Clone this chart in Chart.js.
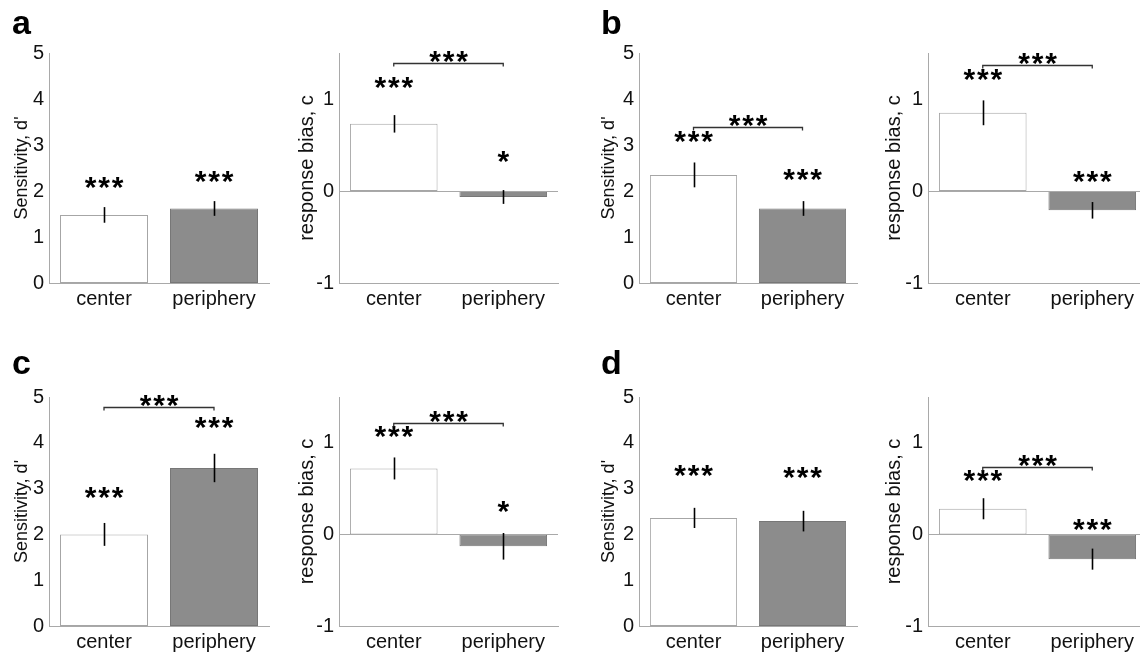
<!DOCTYPE html>
<html>
<head>
<meta charset="utf-8">
<script src="https://cdn.jsdelivr.net/npm/chart.js@4.4.1/dist/chart.umd.min.js"></script>
<style>
html, body { margin: 0; padding: 0; background: #fff; width: 1140px; height: 655px; overflow: hidden; }
canvas { position: absolute; }
</style>
</head>
<body>
<canvas id="sensA" width="280" height="310" style="left:0px;top:0px"></canvas>
<canvas id="biasA" width="290" height="310" style="left:280px;top:0px"></canvas>
<canvas id="sensB" width="290" height="310" style="left:570px;top:0px"></canvas>
<canvas id="biasB" width="297" height="310" style="left:850px;top:0px"></canvas>
<canvas id="sensC" width="280" height="325" style="left:0px;top:330px"></canvas>
<canvas id="biasC" width="290" height="325" style="left:280px;top:330px"></canvas>
<canvas id="sensD" width="290" height="325" style="left:570px;top:330px"></canvas>
<canvas id="biasD" width="297" height="325" style="left:850px;top:330px"></canvas>
<script>
// data
var categories = ['center', 'periphery'];

// a
var sensA = [1.48, 1.62];
var sensErrA = [0.17, 0.16];
var sensStarsA = ['***', '***'];
var sensStarLevelA = [2.17, 2.30];
var biasA = [0.73, -0.065];
var biasErrA = [0.095, 0.075];
var biasStarsA = ['***', '*'];
var biasStarLevelA = [1.17, 0.37];
var biasBracketA = 1.39;

// b
var sensB = [2.35, 1.62];
var sensErrB = [0.27, 0.16];
var sensStarsB = ['***', '***'];
var sensStarLevelB = [3.17, 2.35];
var sensBracketB = 3.39;
var biasB = [0.85, -0.21];
var biasErrB = [0.135, 0.09];
var biasStarsB = ['***', '***'];
var biasStarLevelB = [1.26, 0.15];
var biasBracketB = 1.37;

// c
var sensC = [2.0, 3.45];
var sensErrC = [0.25, 0.31];
var sensStarsC = ['***', '***'];
var sensStarLevelC = [2.90, 4.43];
var sensBracketC = 4.78;
var biasC = [0.72, -0.13];
var biasErrC = [0.12, 0.145];
var biasStarsC = ['***', '*'];
var biasStarLevelC = [1.12, 0.30];
var biasBracketC = 1.22;

// d
var sensD = [2.36, 2.29];
var sensErrD = [0.22, 0.225];
var sensStarsD = ['***', '***'];
var sensStarLevelD = [3.38, 3.33];
var biasD = [0.28, -0.27];
var biasErrD = [0.115, 0.115];
var biasStarsD = ['***', '***'];
var biasStarLevelD = [0.64, 0.10];
var biasBracketD = 0.74;

var FONT = '"Liberation Sans", Arial, Helvetica, sans-serif';
var AXIS_GREY = '#a9a9a9';
var STAR_GAP = 13.5;

// asterisks spaced out a bit wider than the font does it
function drawStars(ctx, text, cx, cy, shift) {
    var n = text.length;
    for (var k = 0; k < n; k++) {
        ctx.fillText(text[k], cx + (k - (n - 1) / 2) * STAR_GAP, cy - shift);
    }
}

// draws baseline, error bars, significance stars, bracket and panel letter
var extrasPlugin = {
    id: 'extras',
    afterDatasetsDraw: function(chart, args, opts) {
        var ctx = chart.ctx;
        var xs = chart.scales.x, ys = chart.scales.y;
        var area = chart.chartArea;
        ctx.save();

        if (ys.min < 0) {
            var y0 = Math.round(ys.getPixelForValue(0)) + 0.5;
            ctx.strokeStyle = AXIS_GREY;
            ctx.lineWidth = 1;
            ctx.beginPath();
            ctx.moveTo(area.left, y0);
            ctx.lineTo(area.right, y0);
            ctx.stroke();
        }

        var vals = chart.data.datasets[0].data;
        ctx.strokeStyle = '#000';
        ctx.lineWidth = 1.6;
        for (var i = 0; i < vals.length; i++) {
            var x = Math.round(xs.getPixelForValue(i)) + 0.5;
            ctx.beginPath();
            ctx.moveTo(x, ys.getPixelForValue(vals[i] - opts.err[i]));
            ctx.lineTo(x, ys.getPixelForValue(vals[i] + opts.err[i]));
            ctx.stroke();
        }

        ctx.font = 'bold 30px ' + FONT;
        ctx.fillStyle = '#000';
        ctx.textAlign = 'center';
        var m = ctx.measureText('*');
        var shift = (m.actualBoundingBoxDescent - m.actualBoundingBoxAscent) / 2;
        for (var j = 0; j < opts.stars.length; j++) {
            drawStars(ctx, opts.stars[j], xs.getPixelForValue(j), ys.getPixelForValue(opts.starLevel[j]), shift);
        }

        if (opts.bracket != null) {
            var by = Math.round(ys.getPixelForValue(opts.bracket)) + 0.5;
            var bx0 = xs.getPixelForValue(0), bx1 = xs.getPixelForValue(1);
            ctx.strokeStyle = '#333';
            ctx.lineWidth = 1.3;
            ctx.beginPath();
            ctx.moveTo(bx0, by + 3);
            ctx.lineTo(bx0, by);
            ctx.lineTo(bx1, by);
            ctx.lineTo(bx1, by + 3);
            ctx.stroke();
            drawStars(ctx, '***', (bx0 + bx1) / 2, by - 7, shift);
        }

        if (opts.letter) {
            ctx.font = 'bold 34px ' + FONT;
            ctx.textAlign = 'left';
            ctx.fillText(opts.letter, opts.letterX, opts.letterY);
        }
        ctx.restore();
    }
};

function makePanel(id, kind, values, errs, stars, starLevel, bracket, lay) {
    var isSens = kind === 'sens';
    new Chart(document.getElementById(id), {
        type: 'bar',
        data: {
            labels: categories,
            datasets: [{
                data: values,
                backgroundColor: ['#ffffff', '#8c8c8c'],
                borderColor: ['#a6a6a6', '#777777'],
                borderWidth: 1,
                borderSkipped: false,
                categoryPercentage: 0.8,
                barPercentage: 1.0
            }]
        },
        options: {
            responsive: false,
            animation: false,
            devicePixelRatio: 1,
            layout: { padding: { top: lay.padTop, right: lay.padRight, bottom: 0, left: 0 } },
            plugins: {
                legend: { display: false },
                tooltip: { enabled: false },
                extras: {
                    err: errs, stars: stars, starLevel: starLevel, bracket: bracket,
                    letter: lay.letter, letterX: lay.letterX, letterY: lay.letterY
                }
            },
            scales: {
                x: {
                    grid: { display: false, drawTicks: false },
                    border: { display: true, color: AXIS_GREY, width: 1 },
                    ticks: { color: '#111', font: { family: FONT, size: 20 }, padding: 4 },
                    afterFit: function(s) { s.height = lay.xHeight; }
                },
                y: {
                    min: isSens ? 0 : -1,
                    max: isSens ? 5 : 1.5,
                    grid: { display: false, drawTicks: false },
                    border: { display: true, color: AXIS_GREY, width: 1 },
                    ticks: {
                        stepSize: 1,
                        color: '#111',
                        font: { family: FONT, size: 20 },
                        padding: 5
                    },
                    afterBuildTicks: function(s) {
                        s.ticks = s.ticks.filter(function(t) { return Number.isInteger(t.value); });
                    },
                    title: {
                        display: true,
                        text: isSens ? "Sensitivity, d'" : 'response bias, c',
                        color: '#111',
                        font: { family: FONT, size: isSens ? 18 : 20 },
                        padding: { top: lay.titlePad, bottom: 0 }
                    },
                    afterFit: function(s) { s.width = lay.axisW; }
                }
            }
        },
        plugins: [extrasPlugin]
    });
}

var topRow = { padTop: 53, xHeight: 27 };
var botRow = { padTop: 67, xHeight: 29 };
function lay(row, axisW, titlePad, padRight, letter, letterX, letterY) {
    return { padTop: row.padTop, xHeight: row.xHeight, axisW: axisW, titlePad: titlePad,
             padRight: padRight, letter: letter, letterX: letterX, letterY: letterY };
}

makePanel('sensA', 'sens', sensA, sensErrA, sensStarsA, sensStarLevelA, null, lay(topRow, 49, 11, 11, 'a', 12, 34));
makePanel('biasA', 'bias', biasA, biasErrA, biasStarsA, biasStarLevelA, biasBracketA, lay(topRow, 59, 15, 12));
makePanel('sensB', 'sens', sensB, sensErrB, sensStarsB, sensStarLevelB, sensBracketB, lay(topRow, 69, 28, 3, 'b', 31, 34));
makePanel('biasB', 'bias', biasB, biasErrB, biasStarsB, biasStarLevelB, biasBracketB, lay(topRow, 78, 32, 0));
makePanel('sensC', 'sens', sensC, sensErrC, sensStarsC, sensStarLevelC, sensBracketC, lay(botRow, 49, 11, 11, 'c', 12, 44));
makePanel('biasC', 'bias', biasC, biasErrC, biasStarsC, biasStarLevelC, biasBracketC, lay(botRow, 59, 15, 12));
makePanel('sensD', 'sens', sensD, sensErrD, sensStarsD, sensStarLevelD, null, lay(botRow, 69, 28, 3, 'd', 31, 44));
makePanel('biasD', 'bias', biasD, biasErrD, biasStarsD, biasStarLevelD, biasBracketD, lay(botRow, 78, 32, 0));
</script>
</body>
</html>
